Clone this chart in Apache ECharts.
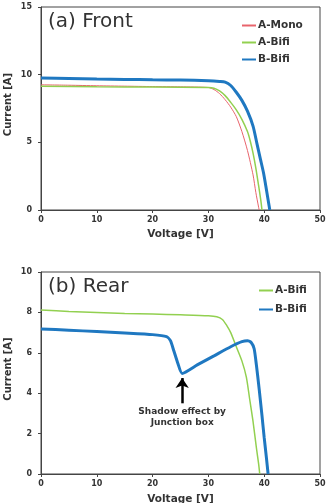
<!DOCTYPE html>
<html><head><meta charset="utf-8">
<script src="https://cdn.jsdelivr.net/npm/echarts@6/dist/echarts.min.js"></script>
<style>html,body{margin:0;padding:0;background:#fff}#c{width:330px;height:503px}</style>
</head><body><div id="c"></div>
<script>
// ---- Front (a) ----
const frontMonoV = [0,5,10,15,20,25,30,31,32,33,34,35,36,37,38,38.5,39,39.1];
const frontMonoI = [9.25,9.22,9.18,9.15,9.12,9.1,9.05,8.9,8.6,8.15,7.6,6.9,5.8,4.4,2.6,1.3,0.2,0];
const frontABifiV = [0,10,20,30,31,32,33,34,35,36,37,37.5,38,38.5,39,39.4,39.6];
const frontABifiI = [9.15,9.1,9.08,9.05,9.0,8.8,8.45,7.95,7.4,6.7,5.8,5.1,4.2,3.1,1.8,0.7,0];
const frontBBifiV = [0,5,10,15,20,25,30,32,33,34,35,36,37,38,38.7,39.3,39.9,40.4,40.8,41];
const frontBBifiI = [9.75,9.72,9.68,9.65,9.62,9.6,9.55,9.5,9.45,9.2,8.7,8.1,7.3,6.2,4.9,3.8,2.7,1.5,0.5,0];
// ---- Rear (b) ----
const rearABifiV = [0,5,10,15,20,25,30,31.5,32.5,33.3,34,35,36,36.8,37.4,38,38.6,39,39.2];
const rearABifiI = [8.12,8.05,8.0,7.95,7.92,7.88,7.83,7.78,7.65,7.35,7.0,6.3,5.6,4.8,3.7,2.6,1.3,0.5,0];
const rearBBifiV = [0,5,10,15,20,22.5,23.2,23.8,24.5,25.3,28,31,34,36,37,37.7,38.2,38.6,39.1,39.6,40,40.4,40.7];
const rearBBifiI = [7.18,7.12,7.05,6.98,6.9,6.8,6.6,6.1,5.5,4.98,5.4,5.85,6.3,6.55,6.6,6.5,6.2,5.4,4.2,2.9,1.8,0.8,0];
// tick settings
const xTicks = {min:0, max:50, interval:10};
const yFront = {min:0, max:15, interval:5};
const yRear = {min:0, max:10, interval:2};
// annotation
const arrowV = 25.3, arrowFromI = 3.5, arrowToI = 4.75;
const annotationLines = ['Shadow effect by','Junction box'];

const zip = (a,b) => a.map((v,i)=>[v,b[i]]);
const FONT = 'DejaVu Sans';
const axisColor = '#444';
const textColor = '#333';

function xAxis(gi){
  return {type:'value', gridIndex:gi, min:xTicks.min, max:xTicks.max, interval:xTicks.interval,
    name:'Voltage [V]', nameLocation:'middle', nameGap: gi===0?19:20, nameMoveOverlap:false,
    nameTextStyle:{fontFamily:FONT, fontWeight:'bold', fontSize:10.5, color:textColor},
    axisLine:{show:true, onZero:false, lineStyle:{color:axisColor, width:1}},
    axisTick:{show:true, length:3, lineStyle:{color:axisColor}},
    axisLabel:{fontFamily:FONT, fontWeight:'bold', fontSize:8, color:textColor, margin:6},
    splitLine:{show:false}};
}
function yAxis(gi, t){
  return {type:'value', gridIndex:gi, min:t.min, max:t.max, interval:t.interval,
    name:'Current [A]', nameLocation:'middle', nameGap:28, nameRotate:90, nameMoveOverlap:false,
    nameTextStyle:{fontFamily:FONT, fontWeight:'bold', fontSize:10, color:textColor, padding:[0,0,0,8]},
    axisLine:{show:true, onZero:false, lineStyle:{color:axisColor, width:1}},
    axisTick:{show:true, length:3, lineStyle:{color:axisColor}},
    axisLabel:{fontFamily:FONT, fontWeight:'bold', fontSize:8, color:textColor, margin:9},
    splitLine:{show:false}};
}
const RED='#e8646c', GREEN='#92d050', BLUE='#1f78c1';
const legendText = {fontFamily:FONT, fontWeight:'bold', fontSize:10.5, color:textColor, padding:[0,0,0,-3]};
const hideSym = {opacity:0};
const chart = echarts.init(document.getElementById('c'), null, {renderer:'canvas'});
chart.setOption({
  animation:false,
  backgroundColor:'#fff',
  grid:[
    {left:41, right:10, top:7, height:203, show:true, borderColor:axisColor, borderWidth:1, containLabel:false, outerBoundsMode:'none'},
    {left:41, right:10, top:272, height:202, show:true, borderColor:axisColor, borderWidth:1, containLabel:false, outerBoundsMode:'none'}
  ],
  title:[
    {text:'(a) Front', left:43, top:7, textStyle:{fontFamily:FONT, fontWeight:'normal', fontSize:20, color:'#333'}},
    {text:'(b) Rear', left:43, top:272, textStyle:{fontFamily:FONT, fontWeight:'normal', fontSize:20, color:'#333'}}
  ],
  legend:[
    {data:[{name:'A-Mono', itemStyle:hideSym},{name:'A-Bifi', itemStyle:hideSym},{name:'B-Bifi', itemStyle:hideSym}],
     orient:'vertical', left:236, top:15, itemWidth:14, itemHeight:12, itemGap:6,
     textStyle:legendText, selectedMode:false},
    {data:[{name:'A-Bifi', itemStyle:hideSym},{name:'B-Bifi', itemStyle:hideSym}],
     orient:'vertical', left:253, top:280, itemWidth:14, itemHeight:12, itemGap:8,
     textStyle:legendText, selectedMode:false}
  ],
  xAxis:[xAxis(0), xAxis(1)],
  yAxis:[yAxis(0,yFront), yAxis(1,yRear)],
  series:[
    {name:'A-Mono', type:'line', xAxisIndex:0, yAxisIndex:0, data:zip(frontMonoV,frontMonoI), showSymbol:false, symbol:'none', smooth:0.25,
     lineStyle:{color:RED, width:1}, itemStyle:{color:RED}},
    {name:'A-Bifi', type:'line', xAxisIndex:0, yAxisIndex:0, data:zip(frontABifiV,frontABifiI), showSymbol:false, symbol:'none', smooth:0.25,
     lineStyle:{color:GREEN, width:1.5}, itemStyle:{color:GREEN}},
    {name:'B-Bifi', type:'line', xAxisIndex:0, yAxisIndex:0, data:zip(frontBBifiV,frontBBifiI), showSymbol:false, symbol:'none', smooth:0.25,
     lineStyle:{color:BLUE, width:3}, itemStyle:{color:BLUE}},
    {name:'A-Bifi', type:'line', xAxisIndex:1, yAxisIndex:1, data:zip(rearABifiV,rearABifiI), showSymbol:false, symbol:'none', smooth:0.25,
     lineStyle:{color:GREEN, width:1.5}, itemStyle:{color:GREEN}},
    {name:'B-Bifi', type:'line', xAxisIndex:1, yAxisIndex:1, data:zip(rearBBifiV,rearBBifiI), showSymbol:false, symbol:'none', smooth:0.2,
     lineStyle:{color:BLUE, width:3}, itemStyle:{color:BLUE},
     markLine:{silent:true, symbol:['none','arrow'], symbolSize:[10,10], label:{show:false},
       lineStyle:{color:'#000', width:2.5, type:'solid'},
       data:[[{coord:[arrowV,arrowFromI]},{coord:[arrowV,arrowToI]}]]}}
  ]
});
// annotation text under the arrow
const p = chart.convertToPixel({gridIndex:1}, [arrowV, arrowFromI]);
chart.setOption({graphic:[{type:'text', x:p[0], y:p[1]+3, style:{
  text:annotationLines.join('\n'), fontFamily:FONT, fontWeight:'bold', fontSize:9, lineHeight:11,
  fill:textColor, align:'center', verticalAlign:'top'}}]});
</script></body></html>
